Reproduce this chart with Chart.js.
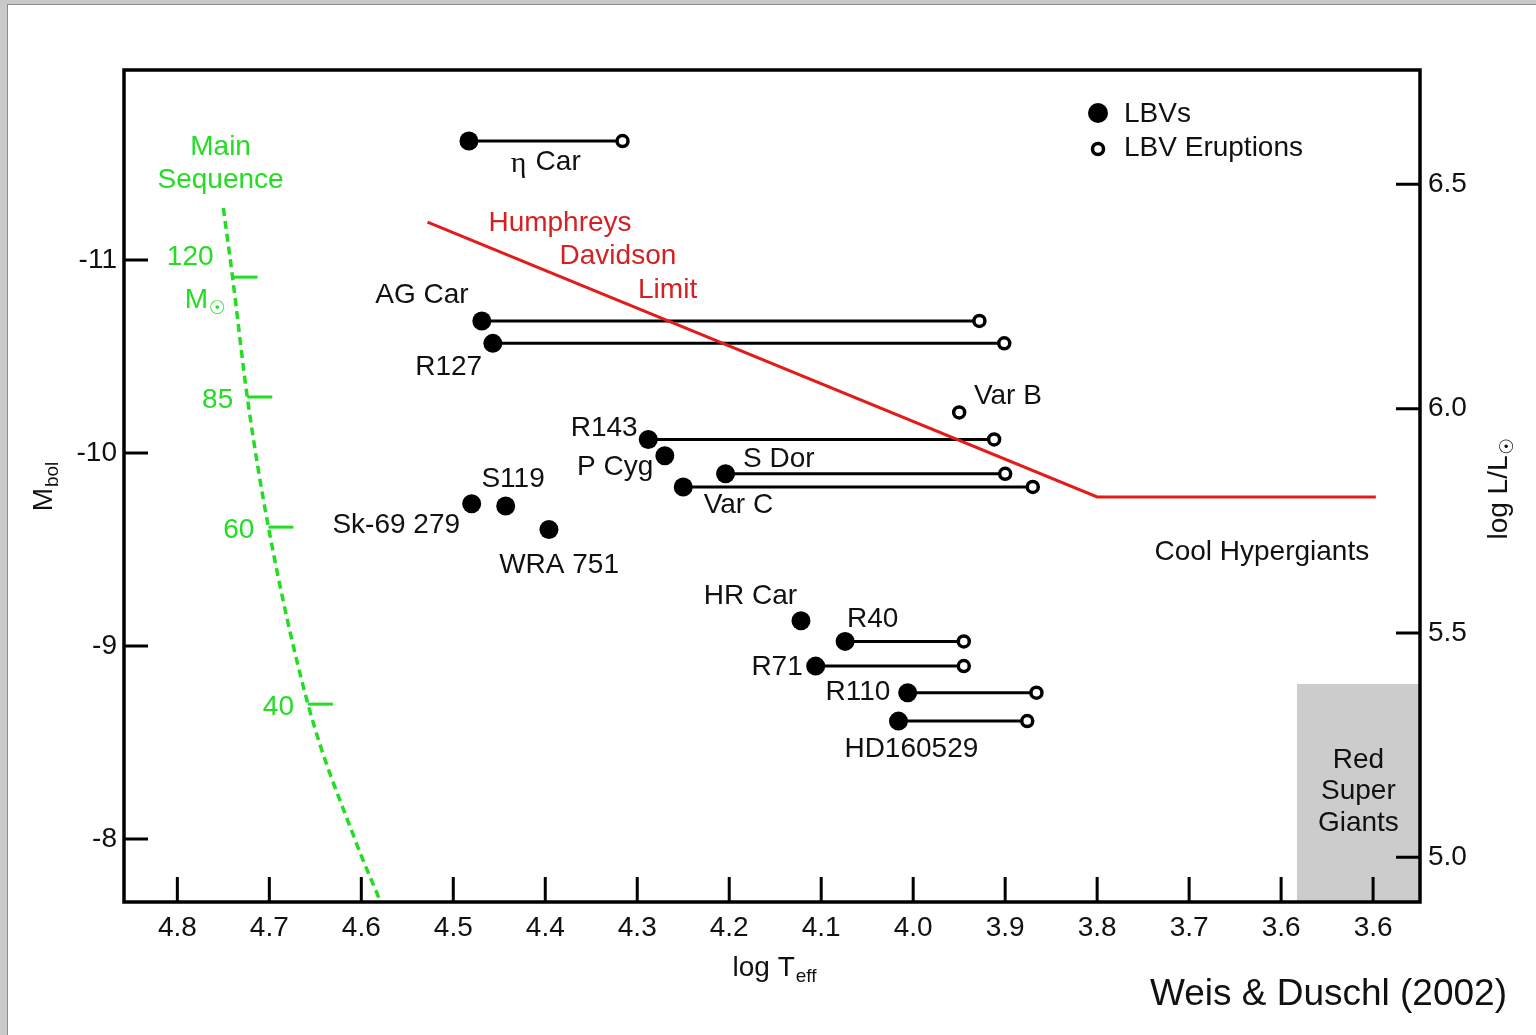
<!DOCTYPE html>
<html>
<head>
<meta charset="utf-8">
<title>LBVs in the HR diagram</title>
<script src="https://cdn.jsdelivr.net/npm/chart.js@4.4.1/dist/chart.umd.min.js"></script>
<style>
  html, body { margin: 0; padding: 0; background: #c9c9c9; overflow: hidden; }
  #sheet { position: absolute; left: 7px; top: 4px; width: 1529px; height: 1031px; background: #fff;
           border-left: 1px solid #8c8c8c; border-top: 1px solid #8c8c8c; }
  #hrd { position: absolute; left: 0; top: 0; }
</style>
</head>
<body>
<div id="sheet"></div>
<canvas id="hrd" width="1536" height="1035"></canvas>
<script>
// quiescent LBV positions (filled dots)
const lbvNames = ['η Car', 'AG Car', 'R127', 'R143', 'P Cyg', 'S Dor', 'Var C', 'Sk-69 279', 'S119',
                  'WRA 751', 'HR Car', 'R40', 'R71', 'R110', 'HD160529'];
const lbvLogT = [4.483, 4.469, 4.457, 4.288, 4.270, 4.204, 4.250, 4.480, 4.443,
                 4.396, 4.122, 4.074, 4.106, 4.006, 4.016];
const lbvMbol = [-11.616, -10.684, -10.568, -10.070, -9.986, -9.892, -9.824, -9.737, -9.725,
                 -9.604, -9.131, -9.024, -8.896, -8.758, -8.611];

// positions in eruption (open circles), joined to the quiescent dot of the same star
const eruptNames = ['η Car', 'AG Car', 'R127', 'R143', 'S Dor', 'Var C', 'R40', 'R71', 'R110', 'HD160529', 'Var B'];
const eruptLogT = [4.316, 3.928, 3.901, 3.912, 3.900, 3.870, 3.945, 3.945, 3.866, 3.876, 3.950];
const eruptMbol = [-11.616, -10.684, -10.568, -10.070, -9.892, -9.824, -9.024, -8.896, -8.758, -8.611, -10.210];

// ZAMS (green dashed) and its mass marks
const msLogT = [4.750, 4.740, 4.724, 4.701, 4.658, 4.607, 4.579];
const msMbol = [-11.269, -10.911, -10.290, -9.616, -8.699, -7.999, -7.673];
const massLabels = ['120', '85', '60', '40'];
const massLogT = [4.740, 4.724, 4.701, 4.658];
const massMbol = [-10.911, -10.290, -9.616, -8.699];

// Humphreys-Davidson limit
const hdLogT = [4.528, 3.800, 3.497];
const hdMbol = [-11.196, -9.772, -9.772];

// red supergiant region (upper left corner of the grey box)
const rsgLogT = [3.583, 3.449];
const rsgMbol = [-8.803, -8.803];

// axes
const X_MIN = 3.449, X_MAX = 4.858;
const Y_MIN = -11.984, Y_MAX = -7.674;
const L_MIN = 4.900, L_MAX = 6.755;
const xTickValues = [4.8, 4.7, 4.6, 4.5, 4.4, 4.3, 4.2, 4.1, 4.0, 3.9, 3.8, 3.7, 3.6, 3.5];
const xTickLabels = ['4.8', '4.7', '4.6', '4.5', '4.4', '4.3', '4.2', '4.1', '4.0', '3.9', '3.8', '3.7', '3.6', '3.6'];
const yTickValues = [-11, -10, -9, -8];
const yTickLabels = ['-11', '-10', '-9', '-8'];
const lTickValues = [6.5, 6.0, 5.5, 5.0];
const lTickLabels = ['6.5', '6.0', '5.5', '5.0'];

const FONT = "'Liberation Sans', Arial, Helvetica, sans-serif";
const GREEN = '#22dd22';
const RED = '#e31b1b';

// text placed in data coordinates: text, logT, Mbol, colour
const notes = [
  ['Car', 4.386, -11.507], ['AG Car', 4.534, -10.818], ['R127', 4.505, -10.445],
  ['Var B', 3.897, -10.295], ['R143', 4.336, -10.129], ['P Cyg', 4.324, -9.927],
  ['S Dor', 4.146, -9.969], ['Var C', 4.190, -9.730], ['S119', 4.435, -9.865],
  ['Sk-69 279', 4.562, -9.627], ['WRA 751', 4.385, -9.419], ['HR Car', 4.177, -9.259],
  ['R40', 4.044, -9.139], ['R71', 4.148, -8.891], ['R110', 4.060, -8.761],
  ['HD160529', 4.002, -8.466],
  ['Humphreys', 4.384, -11.191, '#d42222'], ['Davidson', 4.321, -11.020, '#d42222'],
  ['Limit', 4.267, -10.844, '#d42222'],
  ['Cool Hypergiants', 3.621, -9.487],
  ['Red', 3.516, -8.409], ['Super', 3.516, -8.248], ['Giants', 3.516, -8.083],
  ['Main', 4.753, -11.585, GREEN], ['Sequence', 4.753, -11.414, GREEN],
  ['120', 4.786, -11.015, GREEN]
];

const pts = (xs, ys) => xs.map((x, i) => ({x: x, y: ys[i]}));

const datasets = [];
datasets.push({
  label: 'LBVs', data: pts(lbvLogT, lbvMbol),
  pointRadius: 9.5, pointBackgroundColor: '#000', pointBorderWidth: 0, order: 0
});
datasets.push({
  label: 'LBV Eruptions', data: pts(eruptLogT, eruptMbol),
  pointRadius: 5.5, pointBorderWidth: 3.5, pointBackgroundColor: '#fff', pointBorderColor: '#000', order: 1
});
eruptNames.forEach(function(n, i) {
  const j = lbvNames.indexOf(n);
  if (j < 0) return;
  datasets.push({
    type: 'line', data: [{x: lbvLogT[j], y: lbvMbol[j]}, {x: eruptLogT[i], y: eruptMbol[i]}],
    borderColor: '#000', borderWidth: 3, pointRadius: 0, fill: false, order: 3
  });
});
datasets.push({
  type: 'line', label: 'HD limit', data: pts(hdLogT, hdMbol),
  borderColor: RED, borderWidth: 3, pointRadius: 0, fill: false, order: 2
});
datasets.push({
  type: 'line', label: 'ZAMS', data: pts(msLogT, msMbol),
  borderColor: GREEN, borderWidth: 3.5, borderDash: [8, 5], cubicInterpolationMode: 'monotone',
  pointRadius: 0, fill: false, order: 4
});
datasets.push({
  type: 'line', label: 'RSG', data: pts(rsgLogT, rsgMbol),
  borderWidth: 0, borderColor: 'rgba(0,0,0,0)', backgroundColor: '#cccccc',
  pointRadius: 0, fill: {value: Y_MAX}, order: 5
});

function fixedTicks(values) {
  return function(scale) { scale.ticks = values.map(v => ({value: v})); };
}
function tickText(values, labels) {
  return function(value) {
    const i = values.findIndex(v => Math.abs(v - value) < 1e-6);
    return i < 0 ? '' : labels[i];
  };
}

// text with a lowered subscript, centred on (cx, cy)
function subText(ctx, main, sub, cx, cy, size, subSize, subFont) {
  ctx.font = size + 'px ' + FONT;
  const w1 = ctx.measureText(main).width;
  ctx.font = subSize + 'px ' + (subFont || FONT);
  const w2 = ctx.measureText(sub).width;
  const x0 = cx - (w1 + w2) / 2;
  const base = cy + size * 0.36;
  ctx.textAlign = 'left';
  ctx.textBaseline = 'alphabetic';
  ctx.font = size + 'px ' + FONT;
  ctx.fillText(main, x0, base);
  ctx.font = subSize + 'px ' + (subFont || FONT);
  ctx.fillText(sub, x0 + w1 + 1, base + size * 0.22);
}

const decorations = {
  id: 'decorations',
  afterDatasetsDraw(chart) {
    const ctx = chart.ctx, a = chart.chartArea;
    const sx = chart.scales.x, sy = chart.scales.y, sl = chart.scales.y2;
    ctx.save();

    // inward tick marks and frame
    ctx.strokeStyle = '#000';
    ctx.lineWidth = 3;
    ctx.beginPath();
    sx.ticks.forEach(t => { const p = sx.getPixelForValue(t.value); ctx.moveTo(p, a.bottom); ctx.lineTo(p, a.bottom - 25); });
    sy.ticks.forEach(t => { const p = sy.getPixelForValue(t.value); ctx.moveTo(a.left, p); ctx.lineTo(a.left + 24, p); });
    sl.ticks.forEach(t => { const p = sl.getPixelForValue(t.value); ctx.moveTo(a.right, p); ctx.lineTo(a.right - 24, p); });
    ctx.stroke();
    ctx.lineWidth = 3.5;
    ctx.strokeRect(a.left, a.top, a.right - a.left, a.bottom - a.top);

    // mass marks on the main sequence
    ctx.strokeStyle = GREEN;
    ctx.lineWidth = 3;
    ctx.fillStyle = GREEN;
    ctx.font = '28px ' + FONT;
    massLabels.forEach(function(m, i) {
      const px = sx.getPixelForValue(massLogT[i]), py = sy.getPixelForValue(massMbol[i]);
      ctx.beginPath(); ctx.moveTo(px, py); ctx.lineTo(px + 25, py); ctx.stroke();
      if (i > 0) {
        ctx.textAlign = 'right'; ctx.textBaseline = 'middle';
        ctx.fillText(m, px - 14, py + 3);
      }
    });
    subText(ctx, 'M', '☉', sx.getPixelForValue(4.770), sy.getPixelForValue(-10.803), 28, 19, "'DejaVu Sans', sans-serif");

    // labels
    ctx.textAlign = 'center';
    ctx.textBaseline = 'middle';
    ctx.font = '28px ' + FONT;
    notes.forEach(function(n) {
      ctx.fillStyle = n[3] || '#111';
      ctx.fillText(n[0], sx.getPixelForValue(n[1]), sy.getPixelForValue(n[2]));
    });
    // greek eta in a serif face, as in the original
    ctx.fillStyle = '#111';
    ctx.font = '30px "Liberation Serif", "DejaVu Serif", serif';
    ctx.fillText('η', sx.getPixelForValue(4.429), sy.getPixelForValue(-11.497));

    // legend
    ctx.font = '28px ' + FONT;
    ctx.fillStyle = '#000';
    ctx.beginPath(); ctx.arc(a.right - 322, a.top + 43, 10, 0, 2 * Math.PI); ctx.fill();
    ctx.strokeStyle = '#000'; ctx.lineWidth = 3.5;
    ctx.beginPath(); ctx.arc(a.right - 322, a.top + 79, 5.5, 0, 2 * Math.PI); ctx.stroke();
    ctx.fillStyle = '#111';
    ctx.textAlign = 'left';
    ctx.fillText('LBVs', a.right - 296, a.top + 44);
    ctx.fillText('LBV Eruptions', a.right - 296, a.top + 78);

    // axis titles
    subText(ctx, 'log T', 'eff', (a.left + a.right) / 2 + 2, a.bottom + 64, 28, 19);
    ctx.save();
    ctx.translate(a.left - 82, (a.top + a.bottom) / 2 + 1);
    ctx.rotate(-Math.PI / 2);
    subText(ctx, 'M', 'bol', 0, 0, 28, 19);
    ctx.restore();
    ctx.save();
    ctx.translate(a.right + 77, (a.top + a.bottom) / 2 + 3);
    ctx.rotate(-Math.PI / 2);
    subText(ctx, 'log L/L', '☉', 0, 0, 28, 19, "'DejaVu Sans', sans-serif");
    ctx.restore();

    // source
    ctx.fillStyle = '#111';
    ctx.font = '37px ' + FONT;
    ctx.textAlign = 'right';
    ctx.textBaseline = 'alphabetic';
    ctx.fillText('Weis & Duschl (2002)', chart.width - 29, chart.height - 30);
    ctx.restore();
  }
};

Chart.defaults.font.family = FONT;
Chart.defaults.font.size = 28;
Chart.defaults.color = '#111';

new Chart(document.getElementById('hrd'), {
  type: 'scatter',
  data: { datasets: datasets },
  options: {
    responsive: false,
    animation: false,
    layout: { padding: { top: 70, left: 0, right: 0, bottom: 0 } },
    plugins: { legend: { display: false }, tooltip: { enabled: false } },
    scales: {
      x: {
        type: 'linear', position: 'bottom', reverse: true, min: X_MIN, max: X_MAX,
        grid: { display: false, drawTicks: false }, border: { display: false },
        afterBuildTicks: fixedTicks(xTickValues),
        afterFit: function(s) { s.height = 133; },
        ticks: { autoSkip: false, maxRotation: 0, padding: 9, callback: tickText(xTickValues, xTickLabels) }
      },
      y: {
        type: 'linear', position: 'left', reverse: true, min: Y_MIN, max: Y_MAX,
        grid: { display: false, drawTicks: false }, border: { display: false },
        afterBuildTicks: fixedTicks(yTickValues),
        afterFit: function(s) { s.width = 124; },
        ticks: { autoSkip: false, padding: 7, callback: tickText(yTickValues, yTickLabels) }
      },
      y2: {
        type: 'linear', position: 'right', min: L_MIN, max: L_MAX,
        grid: { display: false, drawTicks: false }, border: { display: false },
        afterBuildTicks: fixedTicks(lTickValues),
        afterFit: function(s) { s.width = 116; },
        ticks: { autoSkip: false, padding: 8, callback: tickText(lTickValues, lTickLabels) }
      }
    }
  },
  plugins: [decorations]
});
</script>
</body>
</html>
